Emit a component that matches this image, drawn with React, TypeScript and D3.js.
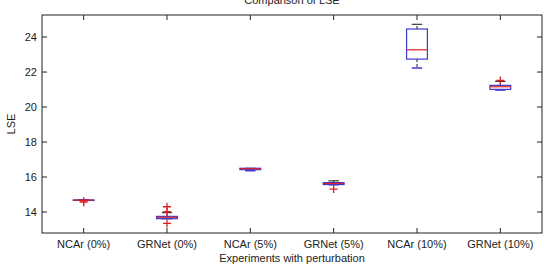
import React from "react";
import * as d3 from "d3";

// box plot stats
const categories = ["NCAr (0%)", "GRNet (0%)", "NCAr (5%)", "GRNet (5%)", "NCAr (10%)", "GRNet (10%)"];
const q1 = [14.68, 13.62, 16.42, 15.57, 22.74, 21.01];
const medians = [14.68, 13.7, 16.47, 15.63, 23.27, 21.16];
const q3 = [14.69, 13.75, 16.5, 15.68, 24.46, 21.24];
const whiskerLow = [14.68, 13.62, 16.36, 15.56, 22.23, 20.97];
const whiskerHigh = [14.69, 13.96, 16.5, 15.78, 24.73, 21.47];
const outliers = [[14.62, 14.56], [14.3, 14.02, 13.35], [], [15.31], [], [21.52]];
const yTicks = [14, 16, 18, 20, 22, 24];

const W = 548;
const H = 266;
const M = { left: 42, right: 6, top: 15, bottom: 33 };
const FONT = "'Liberation Sans', Arial, sans-serif";
const BLUE = "#3a3ad0";
const RED = "#e02020";

export default function App() {
  const x = d3.scaleLinear().domain([0.5, 6.5]).range([M.left, W - M.right]);
  const y = d3.scaleLinear().domain([12.8, 25.26]).range([H - M.bottom, M.top]);
  const bw = x(1.25) - x(1);
  const cw = bw / 2;
  const x0 = M.left, x1 = W - M.right, y0 = M.top, y1 = H - M.bottom;

  return (
    <svg width={W} height={H} style={{ position: "absolute", left: 0, top: 0, background: "#fff" }} fontFamily={FONT}>
      <text x={(x0 + x1) / 2} y={4} fontSize={11} textAnchor="middle" fill="#222">Comparison of LSE</text>

      {categories.map((c, i) => {
        const cx = x(i + 1);
        return (
          <g key={c}>
            {/* whiskers */}
            <line x1={cx} x2={cx} y1={y(q3[i])} y2={y(whiskerHigh[i])} stroke="#111" strokeDasharray="3,2" />
            <line x1={cx} x2={cx} y1={y(q1[i])} y2={y(whiskerLow[i])} stroke="#111" strokeDasharray="3,2" />
            <line x1={cx - cw / 2} x2={cx + cw / 2} y1={y(whiskerHigh[i])} y2={y(whiskerHigh[i])} stroke="#111" />
            <line x1={cx - cw / 2} x2={cx + cw / 2} y1={y(whiskerLow[i])} y2={y(whiskerLow[i])} stroke={BLUE} strokeWidth={1.5} />
            {/* box */}
            <rect x={cx - bw / 2} y={y(q3[i])} width={bw} height={Math.max(y(q1[i]) - y(q3[i]), 0.5)} fill="none" stroke={BLUE} strokeWidth={1.2} />
            <line x1={cx - bw / 2} x2={cx + bw / 2} y1={y(medians[i])} y2={y(medians[i])} stroke={RED} strokeWidth={1.2} />
            {/* outliers */}
            {outliers[i].map((v, k) => (
              <path key={k} d={`M${cx - 4},${y(v)}H${cx + 4}M${cx},${y(v) - 4}V${y(v) + 4}`} stroke={RED} strokeWidth={1.3} />
            ))}
          </g>
        );
      })}

      {/* axes frame */}
      <rect x={x0} y={y0} width={x1 - x0} height={y1 - y0} fill="none" stroke="#222" />
      {categories.map((c, i) => (
        <g key={"t" + c}>
          <line x1={x(i + 1)} x2={x(i + 1)} y1={y1} y2={y1 - 5} stroke="#222" />
          <line x1={x(i + 1)} x2={x(i + 1)} y1={y0} y2={y0 + 5} stroke="#222" />
          <text x={x(i + 1)} y={y1 + 15} fontSize={11} textAnchor="middle" fill="#222">{c}</text>
        </g>
      ))}
      {yTicks.map((t) => (
        <g key={t}>
          <line x1={x0} x2={x0 + 5} y1={y(t)} y2={y(t)} stroke="#222" />
          <line x1={x1} x2={x1 - 5} y1={y(t)} y2={y(t)} stroke="#222" />
          <text x={x0 - 5} y={y(t) + 4} fontSize={11} textAnchor="end" fill="#222">{t}</text>
        </g>
      ))}
      <text x={(x0 + x1) / 2} y={y1 + 29} fontSize={11} textAnchor="middle" fill="#222">Experiments with perturbation</text>
      <text transform={`translate(15,${(y0 + y1) / 2}) rotate(-90)`} fontSize={11} textAnchor="middle" fill="#222">LSE</text>
    </svg>
  );
}
